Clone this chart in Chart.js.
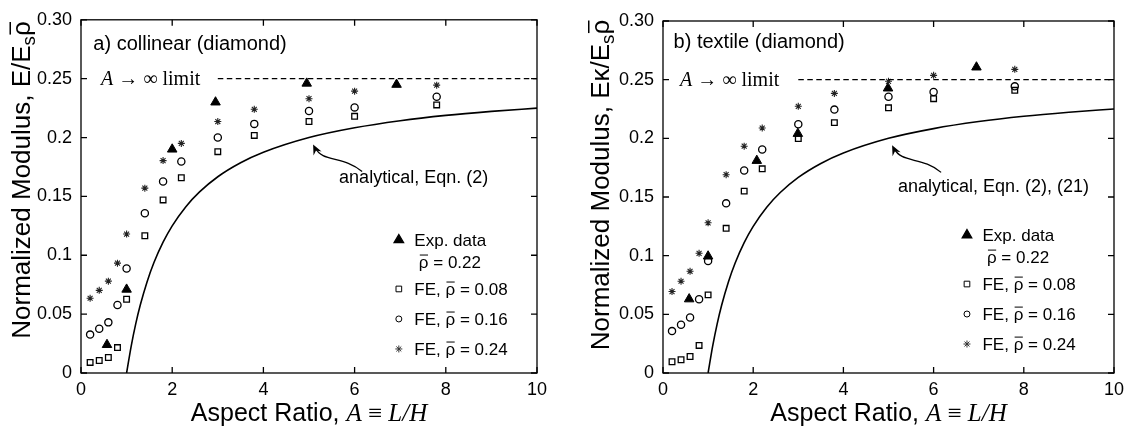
<!DOCTYPE html>
<html>
<head>
<meta charset="utf-8">
<script src="https://cdn.jsdelivr.net/npm/chart.js@4.4.1/dist/chart.umd.min.js"></script>
<style>
  html, body { margin: 0; padding: 0; background: #fff; }
  #wrap { position: relative; width: 1138px; height: 426px; overflow: hidden; }
  #wrap canvas { position: absolute; top: 0; }
  #leftChart { left: 0; }
  #rightChart { left: 580px; }
</style>
</head>
<body>
<div id="wrap">
  <canvas id="leftChart" width="560" height="426"></canvas>
  <canvas id="rightChart" width="558" height="426"></canvas>
</div>
<script>
// aspect ratios of the FE runs (same in both panels)
const feX = [0.2, 0.4, 0.6, 0.8, 1.0, 1.4, 1.8, 2.2, 3.0, 3.8, 5.0, 6.0, 7.8];

// a) collinear
const colFE08 = [0.009, 0.0106, 0.0132, 0.0216, 0.0626, 0.1166, 0.147, 0.1658, 0.188, 0.2018, 0.2136, 0.218, 0.2277];
const colFE16 = [0.0326, 0.0376, 0.043, 0.0578, 0.0888, 0.1357, 0.1627, 0.1796, 0.200, 0.2116, 0.2226, 0.2256, 0.2347];
const colFE24 = [0.0635, 0.0702, 0.078, 0.0933, 0.118, 0.157, 0.1804, 0.195, 0.2136, 0.224, 0.233, 0.2394, 0.2445];
const colExpX = [0.57, 1.0, 2.0, 2.95, 4.95, 6.92];
const colExpY = [0.024, 0.071, 0.190, 0.230, 0.246, 0.245];

// b) textile
const texFE08 = [0.0096, 0.0113, 0.0141, 0.0235, 0.0666, 0.1233, 0.155, 0.174, 0.1998, 0.2134, 0.226, 0.2338, 0.2409];
const texFE16 = [0.0357, 0.0411, 0.0473, 0.0629, 0.0955, 0.1446, 0.1726, 0.1905, 0.212, 0.2245, 0.2355, 0.2395, 0.2443];
const texFE24 = [0.0694, 0.0782, 0.0867, 0.102, 0.128, 0.169, 0.1933, 0.2088, 0.2273, 0.2383, 0.2486, 0.2537, 0.2588];
const texExpX = [0.58, 1.0, 2.08, 2.99, 4.99, 6.95];
const texExpY = [0.063, 0.0995, 0.181, 0.204, 0.2427, 0.2606];

// analytical curve (same in both panels)
const curveX = [1, 1.1, 1.2, 1.3, 1.45, 1.6, 1.8, 2, 2.3, 2.6, 3, 3.5, 4, 5, 6, 7, 8, 9, 10];
const curveY = [0, 0.0227, 0.0417, 0.0577, 0.0776, 0.0938, 0.1111, 0.125, 0.1413, 0.1538, 0.1667, 0.1786, 0.1875, 0.2, 0.2083, 0.2143, 0.2188, 0.2222, 0.225];

// A -> infinity limit
const limitX = [3, 10];
const limitY = [0.25, 0.25];

const xTickLabels = ['0', '2', '4', '6', '8', '10'];
const yTickLabels = ['0', '0.05', '0.1', '0.15', '0.2', '0.25', '0.30'];

const SANS = '"Liberation Sans", Arial, Helvetica, sans-serif';
const SERIF = '"Liberation Serif", "Times New Roman", serif';
const TICK = 6;

Chart.defaults.font.family = SANS;
Chart.defaults.color = '#000';

function pts(xs, ys) {
    return xs.map((x, i) => ({ x: x, y: ys[i] }));
}

function partFont(p, size) {
    const s = p.sub ? size * 0.72 : size;
    return (p.style || 'normal') + ' ' + s.toFixed(1) + 'px ' + (p.family || SANS);
}

function richWidth(ctx, parts, size) {
    let w = 0;
    parts.forEach(p => {
        ctx.font = partFont(p, size);
        w += ctx.measureText(p.t).width;
    });
    return w;
}

// text pieces with subscript / overline (rho bar)
function drawRich(ctx, parts, x, y, size, align) {
    let cx = align === 'center' ? x - richWidth(ctx, parts, size) / 2 : x;
    ctx.textAlign = 'left';
    ctx.textBaseline = 'alphabetic';
    parts.forEach(p => {
        ctx.font = partFont(p, size);
        const w = ctx.measureText(p.t).width;
        const by = p.sub ? y + size * 0.2 : y;
        ctx.fillText(p.t, cx, by);
        if (p.over) {
            const oy = by - size * 0.76;
            ctx.beginPath();
            ctx.moveTo(cx + w * 0.1, oy);
            ctx.lineTo(cx + w * 0.95, oy);
            ctx.lineWidth = Math.max(1, size / 17);
            ctx.stroke();
        }
        cx += w;
    });
}

function legendMarker(ctx, style, x, y) {
    const opts = { pointStyle: style, rotation: 0, radius: 3, borderWidth: 1.2 };
    ctx.strokeStyle = '#000';
    ctx.fillStyle = 'rgba(0,0,0,0)';
    if (style === 'triangle') {
        opts.radius = 5.5;
        ctx.fillStyle = '#000';
    } else if (style === 'rect') {
        opts.radius = 4;
    } else if (style === 'star') {
        opts.radius = 3.5;
        opts.borderWidth = 1;
        ctx.strokeStyle = '#333';
    }
    Chart.helpers.drawPoint(ctx, opts, x, y);
}

const legendRows = [
    { marker: 'triangle', dx: 15.5, parts: [{ t: 'Exp. data' }] },
    { marker: null, dx: 20, parts: [{ t: 'ρ', over: true }, { t: ' = 0.22' }] },
    { marker: 'rect', dx: 15.5, parts: [{ t: 'FE, ' }, { t: 'ρ', over: true }, { t: ' = 0.08' }] },
    { marker: 'circle', dx: 15.5, parts: [{ t: 'FE, ' }, { t: 'ρ', over: true }, { t: ' = 0.16' }] },
    { marker: 'star', dx: 15.5, parts: [{ t: 'FE, ' }, { t: 'ρ', over: true }, { t: ' = 0.24' }] }
];
const legendGaps = [0, 22, 49, 79, 109];

const panelDecor = {
    id: 'panelDecor',
    afterDraw(chart, args, o) {
        const ctx = chart.ctx;
        const a = chart.chartArea;
        const sx = chart.scales.x, sy = chart.scales.y;
        const X = v => sx.getPixelForValue(v), Y = v => sy.getPixelForValue(v);
        ctx.save();
        ctx.fillStyle = '#000';
        ctx.strokeStyle = '#000';

        // box with inward ticks
        ctx.lineWidth = 1.3;
        ctx.strokeRect(a.left, a.top, a.right - a.left, a.bottom - a.top);
        ctx.beginPath();
        sx.ticks.forEach(t => {
            const p = X(t.value);
            ctx.moveTo(p, a.bottom); ctx.lineTo(p, a.bottom - TICK);
            ctx.moveTo(p, a.top); ctx.lineTo(p, a.top + TICK);
        });
        sy.ticks.forEach(t => {
            const p = Y(t.value);
            ctx.moveTo(a.left, p); ctx.lineTo(a.left + TICK, p);
            ctx.moveTo(a.right, p); ctx.lineTo(a.right - TICK, p);
        });
        ctx.stroke();

        // panel title
        ctx.font = '20px ' + SANS;
        ctx.textAlign = 'left';
        ctx.textBaseline = 'alphabetic';
        ctx.fillText(o.title, X(o.titleAt[0]), Y(o.titleAt[1]));

        // limit label
        drawRich(ctx, [
            { t: 'A', family: SERIF, style: 'italic' },
            { t: ' → ∞ limit', family: SERIF }
        ], a.left + o.limitDx, Y(0.25) + 6.5, 20, 'left');

        // analytical label and curly arrow
        ctx.font = '18px ' + SANS;
        ctx.fillText(o.analytic, X(o.analyticAt[0]), Y(o.analyticAt[1]));
        const tx = X(o.arrowTip[0]), ty = Y(o.arrowTip[1]);
        ctx.lineWidth = 1.3;
        ctx.beginPath();
        ctx.moveTo(tx + 2, ty + 3);
        ctx.bezierCurveTo(tx + 9, ty + 18, tx + 30, ty + 11, tx + 49, ty + 27);
        ctx.stroke();
        const ang = Math.atan2(-16, -8);
        ctx.beginPath();
        ctx.moveTo(tx, ty);
        ctx.lineTo(tx - 10 * Math.cos(ang) + 4.5 * Math.sin(ang), ty - 10 * Math.sin(ang) - 4.5 * Math.cos(ang));
        ctx.lineTo(tx - 6.5 * Math.cos(ang), ty - 6.5 * Math.sin(ang));
        ctx.lineTo(tx - 10 * Math.cos(ang) - 4.5 * Math.sin(ang), ty - 10 * Math.sin(ang) + 4.5 * Math.cos(ang));
        ctx.closePath();
        ctx.fill();

        // legend
        const lx = X(o.legendAt[0]), ly = Y(o.legendAt[1]);
        legendRows.forEach((r, i) => {
            const y = ly + legendGaps[i];
            if (r.marker) {
                ctx.save();
                legendMarker(ctx, r.marker, lx, y);
                ctx.restore();
            }
            ctx.fillStyle = '#000';
            ctx.strokeStyle = '#000';
            drawRich(ctx, r.parts, lx + r.dx, y + 6, 17, 'left');
        });

        // axis titles
        drawRich(ctx, [
            { t: 'Aspect Ratio, ' },
            { t: 'A', family: SERIF, style: 'italic' },
            { t: ' ≡ ', family: SERIF },
            { t: 'L/H', family: SERIF, style: 'italic' }
        ], (a.left + a.right) / 2, 421, 25, 'center');

        ctx.save();
        ctx.translate(o.yTitleX, o.yTitleY);
        ctx.rotate(-Math.PI / 2);
        drawRich(ctx, o.yTitle, 0, 0, 26, 'center');
        ctx.restore();

        ctx.restore();
    }
};

function makePanel(canvasId, d, o) {
    return new Chart(document.getElementById(canvasId), {
        type: 'scatter',
        data: {
            datasets: [
                {
                    label: 'analytical',
                    data: pts(curveX, curveY),
                    showLine: true,
                    pointRadius: 0,
                    borderColor: '#000',
                    borderWidth: 1.6,
                    cubicInterpolationMode: 'monotone',
                    fill: false
                },
                {
                    label: 'limit',
                    data: pts(limitX, limitY),
                    showLine: true,
                    pointRadius: 0,
                    borderColor: '#000',
                    borderWidth: 1.2,
                    borderDash: [5.5, 3.5],
                    fill: false
                },
                {
                    label: 'FE 0.08',
                    data: pts(feX, d.fe08),
                    pointStyle: 'rect',
                    pointRadius: 4,
                    pointBorderWidth: 1.3,
                    borderColor: '#000',
                    backgroundColor: 'rgba(0,0,0,0)'
                },
                {
                    label: 'FE 0.16',
                    data: pts(feX, d.fe16),
                    pointStyle: 'circle',
                    pointRadius: 3.6,
                    pointBorderWidth: 1.3,
                    borderColor: '#000',
                    backgroundColor: 'rgba(0,0,0,0)'
                },
                {
                    label: 'FE 0.24',
                    data: pts(feX, d.fe24),
                    pointStyle: 'star',
                    pointRadius: 3.5,
                    pointBorderWidth: 1.1,
                    borderColor: '#222',
                    backgroundColor: 'rgba(0,0,0,0)'
                },
                {
                    label: 'Exp. data',
                    data: pts(d.expX, d.expY),
                    pointStyle: 'triangle',
                    pointRadius: 5.5,
                    pointBorderWidth: 1,
                    borderColor: '#000',
                    backgroundColor: '#000'
                }
            ]
        },
        options: {
            responsive: false,
            animation: false,
            events: [],
            layout: { padding: { left: 0, top: o.padTop, right: o.padRight, bottom: 0 } },
            plugins: {
                legend: { display: false },
                tooltip: { enabled: false },
                panelDecor: o
            },
            scales: {
                x: {
                    type: 'linear',
                    min: 0,
                    max: 10,
                    grid: { display: false, drawTicks: false },
                    border: { display: false },
                    ticks: {
                        stepSize: 2,
                        padding: 6,
                        maxRotation: 0,
                        autoSkip: false,
                        color: '#000',
                        font: { family: SANS, size: 18 },
                        callback: v => xTickLabels[Math.round(v / 2)]
                    },
                    afterFit: s => { s.height = 53; }
                },
                y: {
                    type: 'linear',
                    min: 0,
                    max: 0.3,
                    grid: { display: false, drawTicks: false },
                    border: { display: false },
                    ticks: {
                        stepSize: 0.05,
                        padding: 9,
                        autoSkip: false,
                        color: '#000',
                        font: { family: SANS, size: 18 },
                        callback: v => yTickLabels[Math.round(v / 0.05)]
                    },
                    afterFit: s => { s.width = o.yWidth; }
                }
            }
        },
        plugins: [panelDecor]
    });
}

makePanel('leftChart',
    { fe08: colFE08, fe16: colFE16, fe24: colFE24, expX: colExpX, expY: colExpY },
    {
        padTop: 17, padRight: 23, yWidth: 81,
        title: 'a) collinear (diamond)', titleAt: [0.27, 0.2743],
        limitDx: 20,
        analytic: 'analytical, Eqn. (2)', analyticAt: [5.66, 0.1613],
        arrowTip: [5.09, 0.194],
        legendAt: [6.97, 0.113],
        yTitleX: 30, yTitleY: 180,
        yTitle: [{ t: 'Normalized Modulus, E/E' }, { t: 's', sub: true }, { t: 'ρ', over: true }]
    });

makePanel('rightChart',
    { fe08: texFE08, fe16: texFE16, fe24: texFE24, expX: texExpX, expY: texExpY },
    {
        padTop: 21, padRight: 24, yWidth: 83,
        title: 'b) textile (diamond)', titleAt: [0.235, 0.2766],
        limitDx: 17,
        analytic: 'analytical, Eqn. (2), (21)', analyticAt: [5.21, 0.1546],
        arrowTip: [5.08, 0.194],
        legendAt: [6.74, 0.1176],
        yTitleX: 28.5, yTitleY: 185,
        yTitle: [{ t: 'Normalized Modulus, Eκ/E' }, { t: 's', sub: true }, { t: 'ρ', over: true }]
    });
</script>
</body>
</html>
